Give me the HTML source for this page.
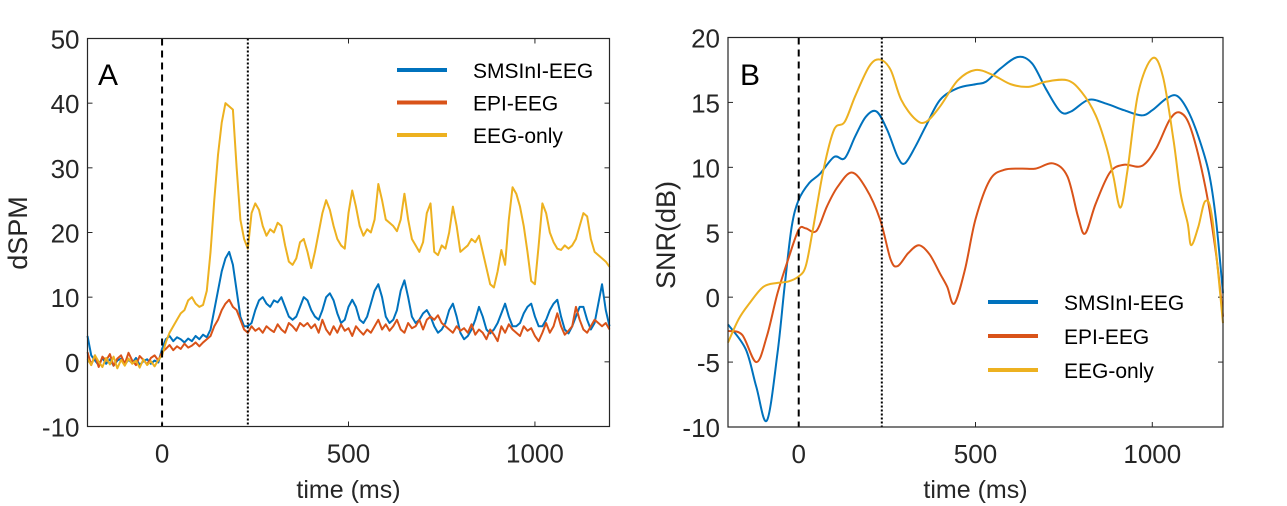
<!DOCTYPE html>
<html><head><meta charset="utf-8"><style>
body{margin:0;background:#fff;}
svg{display:block;font-family:"Liberation Sans",sans-serif;}
</style></head><body>
<svg id="chart" width="1287" height="506" viewBox="0 0 1287 506" xmlns="http://www.w3.org/2000/svg"></svg>
<script>
// ===== Panel A data (10 ms steps from -200 to 1200) =====
const timesA_start = -200;
const timesA_step = 10;
const aSMS = [4,1,0.2,-0.5,0.6,-0.3,0.4,-0.6,0.2,0.5,-0.4,0.3,-0.2,0.6,-0.5,0.1,0.4,-0.3,0.2,-0.1,
2,3.5,4,3.2,3.8,3.5,3.0,3.6,3.2,4,3.5,4.2,3.8,5,8,11,14,16,17,15,11,7,5.5,5.5,6,8,9.5,10,9,8.5,9.5,9.2,10,8.5,7,6.5,7,8.5,10,9.5,8,7,6.5,8,10,10.6,9.5,7.5,6,6.5,8.5,9.6,8.5,6.5,6,7,9,11,12,10,7,6,6.5,8,11,12.6,10,7,6,6.5,7.5,8,7,5.5,4.5,5,6,8,9,7,4.5,3.5,4,5,6.5,8.5,7,5,4.4,5,6,7.5,9,7,5.5,5.5,6,7.5,8.5,9,7,5.5,5.5,6.5,8,9,9.6,7,5,4.4,5.5,7,8.5,8.5,6.5,5,6,9,12,8,5.5];
const aEPI = [1.5,-0.5,1,-0.8,0.8,0.2,1.2,-0.6,0.5,1,-0.3,1.4,0.2,-0.5,0.9,0.3,-0.4,0.6,1,0.2,
1.5,2,2.6,1.8,2.4,2,2.8,2.2,2.5,3,2.4,3,3.5,4,5.5,6.5,8,9,9.6,8.5,8,6.5,5,4.5,5.5,4.8,5.2,4.5,5.5,5,4.6,5.8,5,4.5,6,5.5,4.8,6,5.5,6,5.2,5.8,4.5,6.5,5,4.2,5.5,4.5,5.8,4.8,5.2,4,5.5,4.8,4.2,5,4.5,5.5,6.5,5,5.8,4.8,5.5,6.5,5,4.5,6,5.2,5.5,6.5,5,6.5,7,6.5,7.2,6,5.5,5,4.5,5.5,4.8,5.2,4.5,5.8,4.2,5,4.5,3.5,5,4.2,3.2,5.5,4.5,5.8,5,4.5,4,5.5,4.8,5.2,4,3.2,4.5,6,4.5,5.5,7.5,5.5,4.2,4.8,5.5,8.5,6.5,5,4.5,5.5,6.5,6,5.5,6,5];
const aEEG = [0.5,-0.5,1,0,-0.8,0.6,-0.4,0.8,-1,0.3,-0.6,0.5,-0.3,0.2,-0.9,0.4,-0.5,0.1,-0.7,0.3,
1,3,4.5,5.5,6.5,7.5,8,9.5,10,9,8.5,8.8,11,17,25,32,37,40,39.5,39,30,22,19,17.5,23,24.5,23.5,21,19.5,20.5,20,21.5,21,18,15.5,15,16,18.5,19,17,14.5,17,20,23,25,23.5,21,19,18,17.5,23,26.5,24,21,19.5,20.5,20,22,27.5,25,22,21.5,21,20.2,22,26,22,19,18,17,18.5,23,24.5,17,16.5,18,17.5,20,24,21,17,17.5,18,19,18.5,19.5,17,14.5,12,11.5,14,17.3,15,22,27,26,24,21,17,12.5,12,18,24.5,23,20,18.5,17.5,17.3,18,17.5,18,19,21,23,22.5,19,17,16.5,16,15.5,14.7];
const aYTicks = [50,40,30,20,10,0,-10];
const aXTicks = [0,500,1000];

// ===== Panel B data =====
const bSMS_t = [-200,-150,-120,-90,-60,-40,-20,0,30,60,100,130,160,190,220,250,280,300,330,360,400,450,500,530,570,620,660,700,740,770,820,870,920,970,1000,1040,1070,1100,1130,1160,1180,1200];
const bSMS_v = [-2.1,-4,-6.9,-9.5,-4.3,0.8,5.4,7.5,8.8,9.5,10.8,10.7,12.4,13.9,14.3,12.9,10.8,10.3,11.6,13.2,15.2,16.1,16.4,16.6,17.6,18.5,18,16,14.3,14.3,15.2,14.9,14.4,14,14.4,15.3,15.5,14.4,12.4,9.6,6,0.3];
const bEPI_t = [-200,-160,-120,-90,-60,-30,0,20,50,80,110,150,190,230,260,280,310,340,370,400,420,440,470,500,540,580,630,670,720,760,790,810,840,880,920,970,1010,1050,1080,1110,1150,1180,1200];
const bEPI_v = [-2.6,-2.9,-5,-3,0.3,2.9,5.2,5.3,5.1,7,8.5,9.6,8.4,6,2.9,2.4,3.4,4,3.3,1.8,0.8,-0.5,2.1,6,9,9.8,9.9,9.9,10.3,9.3,6.2,4.9,7.2,9.6,10.2,10.1,11.4,13.7,14.2,12.9,8.5,3.4,-1.5];
const bEEG_t = [-200,-170,-140,-100,-60,-30,0,20,40,70,100,130,160,200,230,260,290,330,360,400,450,500,550,600,650,700,760,800,840,870,890,910,930,960,1000,1030,1060,1080,1100,1110,1130,1150,1170,1200];
const bEEG_v = [-3.5,-1.7,-0.5,0.8,1.1,1.2,1.6,2.4,5.2,9.8,12.9,13.5,15.5,17.8,18.3,17.5,15.2,13.7,13.5,14.7,16.7,17.5,17.1,16.4,16.2,16.6,16.7,15.8,14,11.6,9.3,6.9,9.8,15.7,18.4,17,12.1,8,5.7,4,5.4,7.4,6,-2];
const bYTicks = [20,15,10,5,0,-5,-10];
const bXTicks = [0,500,1000];

const seriesNames = ['SMSInI-EEG','EPI-EEG','EEG-only'];
const colors = ['#0072BD','#D95319','#EDB120'];

const NS='http://www.w3.org/2000/svg';
const svg=document.getElementById('chart');
function mk(tag,attrs,parent){const e=document.createElementNS(NS,tag);for(const k in attrs)e.setAttribute(k,attrs[k]);(parent||svg).appendChild(e);return e;}

function panel(cfg){
  const g=mk('g',{});
  
  
  const X=v=>cfg.x0+(v-cfg.xmin)/(cfg.xmax-cfg.xmin)*(cfg.x1-cfg.x0);
  const Y=v=>cfg.y1-(v-cfg.ymin)/(cfg.ymax-cfg.ymin)*(cfg.y1-cfg.y0);
  cfg.X=X;cfg.Y=Y;cfg.g=g;
  cfg.yTicks.forEach(t=>{
    const y=Y(t);
    const l=mk('line',{x1:cfg.x0,x2:cfg.x0+5,y1:y,y2:y,stroke:'#262626','stroke-width':1},g);
    
    
    const l2=mk('line',{x1:cfg.x1,x2:cfg.x1-5,y1:y,y2:y,stroke:'#262626','stroke-width':1},g);
    
    
    const tx=mk('text',{x:cfg.x0-8,y:y+10,'text-anchor':'end','font-size':26,fill:'#262626'},g);
    tx.textContent=t;
    
    
  });
  cfg.xTicks.forEach(t=>{
    const x=X(t);
    const l=mk('line',{x1:x,x2:x,y1:cfg.y1,y2:cfg.y1-5,stroke:'#262626','stroke-width':1},g);
    
    
    const l2=mk('line',{x1:x,x2:x,y1:cfg.y0,y2:cfg.y0+5,stroke:'#262626','stroke-width':1},g);
    
    
    const tx=mk('text',{x:x,y:cfg.y1+36,'text-anchor':'middle','font-size':26,fill:'#262626'},g);
    tx.textContent=t;
    
    
  });
  return g;
}
function frame(cfg){
  const r=mk('rect',{x:cfg.x0,y:cfg.y0,width:cfg.x1-cfg.x0,height:cfg.y1-cfg.y0,fill:'none',stroke:'#262626','stroke-width':1.2},cfg.g);
  
  
  const xl=mk('text',{x:(cfg.x0+cfg.x1)/2,y:498,'text-anchor':'middle','font-size':25,fill:'#262626'},cfg.g);
  xl.textContent='time (ms)';
  
  
  const yl=mk('text',{x:0,y:0,'text-anchor':'middle','font-size':27,fill:'#262626',transform:`translate(${cfg.ylx},${cfg.yly}) rotate(-90)`},cfg.g);
  yl.textContent=cfg.ylabel;
  
  
  const pl=mk('text',{x:cfg.lblx,y:85,'font-size':30,fill:'#000'},cfg.g);
  pl.textContent=cfg.letter;
  
  
}
function vlines(cfg){
  const d=mk('line',{x1:cfg.X(0),x2:cfg.X(0),y1:cfg.y0,y2:cfg.y1,stroke:'#000','stroke-width':2,'stroke-dasharray':'7,5'},cfg.g);
  
  
  const o=mk('line',{x1:cfg.X(cfg.dot),x2:cfg.X(cfg.dot),y1:cfg.y0,y2:cfg.y1,stroke:'#000','stroke-width':2,'stroke-dasharray':'2,2'},cfg.g);
  
  
}
function legend(cfg,lx,ly,gap){
  const lg=mk('g',{},cfg.g);
  
  
  seriesNames.forEach((n,i)=>{
    const y=ly+i*gap;
    const l=mk('line',{x1:lx,x2:lx+50,y1:y,y2:y,stroke:colors[i],'stroke-width':4},lg);
    
    
    const t=mk('text',{x:lx+76,y:y+8,'font-size':21,fill:'#000'},lg);
    t.textContent=n;
    
    
  });
}
function smoothPath(pts){
  let d=`M${pts[0][0]},${pts[0][1]}`;
  for(let i=0;i<pts.length-1;i++){
    const p0=pts[Math.max(0,i-1)],p1=pts[i],p2=pts[i+1],p3=pts[Math.min(pts.length-1,i+2)];
    const c1=[p1[0]+(p2[0]-p0[0])/6,p1[1]+(p2[1]-p0[1])/6];
    const c2=[p2[0]-(p3[0]-p1[0])/6,p2[1]-(p3[1]-p1[1])/6];
    d+=` C${c1[0]},${c1[1]} ${c2[0]},${c2[1]} ${p2[0]},${p2[1]}`;
  }
  return d;
}

// Panel A
const A={name:'panel-a',x0:87.5,x1:609.5,y0:38.5,y1:426.5,xmin:-200,xmax:1200,ymin:-10,ymax:50,yTicks:aYTicks,xTicks:aXTicks,ylabel:'dSPM',ylx:27,yly:233,letter:'A',lblx:98,dot:230};
panel(A);
const aData=[aSMS,aEPI,aEEG];
[0,1,2].forEach(i=>{
  const pts=aData[i].map((v,k)=>[A.X(timesA_start+k*timesA_step),A.Y(v)]);
  const p=mk('polyline',{points:pts.map(p=>p.join(',')).join(' '),fill:'none',stroke:colors[i],'stroke-width':2,'stroke-linejoin':'round'},A.g);
  
  
});
vlines(A);frame(A);legend(A,397,70,32.5);

// Panel B
const B={name:'panel-b',x0:728,x1:1223,y0:37.5,y1:427,xmin:-200,xmax:1200,ymin:-10,ymax:20,yTicks:bYTicks,xTicks:bXTicks,ylabel:'SNR(dB)',ylx:675,yly:235,letter:'B',lblx:740,dot:235};
panel(B);
const bT=[bSMS_t,bEPI_t,bEEG_t],bV=[bSMS_v,bEPI_v,bEEG_v];
[0,1,2].forEach(i=>{
  const pts=bT[i].map((t,k)=>[B.X(t),B.Y(bV[i][k])]);
  const p=mk('path',{d:smoothPath(pts),fill:'none',stroke:colors[i],'stroke-width':2},B.g);
  
  
});
vlines(B);frame(B);legend(B,988,302,34);
</script>
</body></html>
